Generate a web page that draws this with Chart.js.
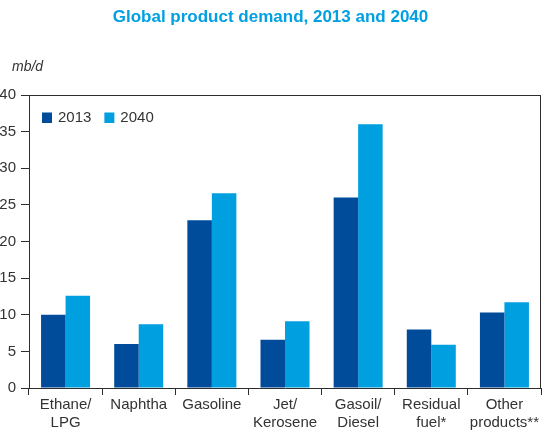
<!DOCTYPE html>
<html>
<head>
<meta charset="utf-8">
<script src="https://cdn.jsdelivr.net/npm/chart.js@4.4.0/dist/chart.umd.min.js"></script>
<style>
  html, body { margin: 0; padding: 0; background: #ffffff; }
  #wrap { width: 546px; height: 430px; }
</style>
</head>
<body>
<div id="wrap"><canvas id="chart" width="546" height="430"></canvas></div>
<script>
// Product categories (multi-line labels where the name wraps)
const categories = [
  ['Ethane/', 'LPG'],
  'Naphtha',
  'Gasoline',
  ['Jet/', 'Kerosene'],
  ['Gasoil/', 'Diesel'],
  ['Residual', 'fuel*'],
  ['Other', 'products**']
];

// Demand in mb/d
const demand2013 = [10.0, 6.0, 22.9, 6.6, 26.0, 8.0, 10.3];
const demand2040 = [12.6, 8.7, 26.6, 9.1, 36.0, 5.9, 11.7];

// Value axis
const yMin = 0;
const yMax = 40;
const yStep = 5;

const seriesNames = ['2013', '2040'];
const seriesColors = ['#004b9a', '#009fe0'];

const FONT = "'Liberation Sans', Arial, Helvetica, sans-serif";
const AXIS_COLOR = '#2e2e2e';
const TEXT_COLOR = '#333333';

Chart.defaults.font.family = FONT;
Chart.defaults.color = TEXT_COLOR;

// Closes the plot box on the top and right sides
const frameLines = {
  id: 'frameLines',
  afterDatasetsDraw(chart) {
    const { ctx, chartArea: a } = chart;
    ctx.save();
    ctx.strokeStyle = AXIS_COLOR;
    ctx.lineWidth = 1;
    ctx.beginPath();
    ctx.moveTo(a.left, a.top + 0.5);
    ctx.lineTo(a.right, a.top + 0.5);
    ctx.moveTo(a.right - 0.5, a.top);
    ctx.lineTo(a.right - 0.5, a.bottom);
    ctx.stroke();
    ctx.restore();
  }
};

// Unit caption above the value axis
const unitCaption = {
  id: 'unitCaption',
  afterDraw(chart) {
    const { ctx, chartArea: a } = chart;
    ctx.save();
    ctx.font = 'italic 14px ' + FONT;
    ctx.fillStyle = TEXT_COLOR;
    ctx.textAlign = 'left';
    ctx.textBaseline = 'alphabetic';
    ctx.fillText('mb/d', a.left - 17, a.top - 24);
    ctx.restore();
  }
};

// Horizontal legend placed inside the plot area, top-left
const insideLegend = {
  id: 'insideLegend',
  afterDraw(chart) {
    const { ctx, chartArea: a } = chart;
    ctx.save();
    ctx.font = '15px ' + FONT;
    ctx.textBaseline = 'middle';
    ctx.textAlign = 'left';
    let x = a.left + 13;
    const y = a.top + 17.5;
    chart.data.datasets.forEach(ds => {
      ctx.fillStyle = ds.backgroundColor;
      ctx.fillRect(x, y, 10, 10.5);
      ctx.fillStyle = TEXT_COLOR;
      ctx.fillText(ds.label, x + 16, y + 5.5);
      x += 16 + ctx.measureText(ds.label).width + 13;
    });
    ctx.restore();
  }
};

new Chart(document.getElementById('chart'), {
  type: 'bar',
  data: {
    labels: categories,
    datasets: [
      { label: seriesNames[0], data: demand2013, backgroundColor: seriesColors[0] },
      { label: seriesNames[1], data: demand2040, backgroundColor: seriesColors[1] }
    ]
  },
  options: {
    responsive: false,
    animation: false,
    devicePixelRatio: 1,
    categoryPercentage: 0.67,
    barPercentage: 1.0,
    layout: { padding: { top: 0, right: 5, bottom: 0, left: 0 } },
    plugins: {
      legend: { display: false },
      tooltip: { enabled: false },
      title: {
        display: true,
        text: 'Global product demand, 2013 and 2040',
        color: '#00a0e1',
        font: { size: 17, weight: 'bold', family: FONT },
        padding: { top: 7, bottom: 67.6 }
      }
    },
    scales: {
      x: {
        grid: {
          offset: true,
          drawOnChartArea: false,
          drawTicks: true,
          tickLength: 7,
          color: AXIS_COLOR
        },
        border: { color: AXIS_COLOR, width: 1 },
        ticks: {
          color: TEXT_COLOR,
          font: { size: 15 },
          padding: 1,
          maxRotation: 0,
          autoSkip: false
        },
        afterFit(scale) { scale.height = 42; }
      },
      y: {
        min: yMin,
        max: yMax,
        grid: {
          drawOnChartArea: false,
          drawTicks: true,
          tickLength: 8,
          color: AXIS_COLOR
        },
        border: { color: AXIS_COLOR, width: 1 },
        ticks: {
          stepSize: yStep,
          color: TEXT_COLOR,
          font: { size: 15 },
          padding: 5
        },
        afterFit(scale) { scale.width = 29; }
      }
    }
  },
  plugins: [frameLines, unitCaption, insideLegend]
});
</script>
</body>
</html>
